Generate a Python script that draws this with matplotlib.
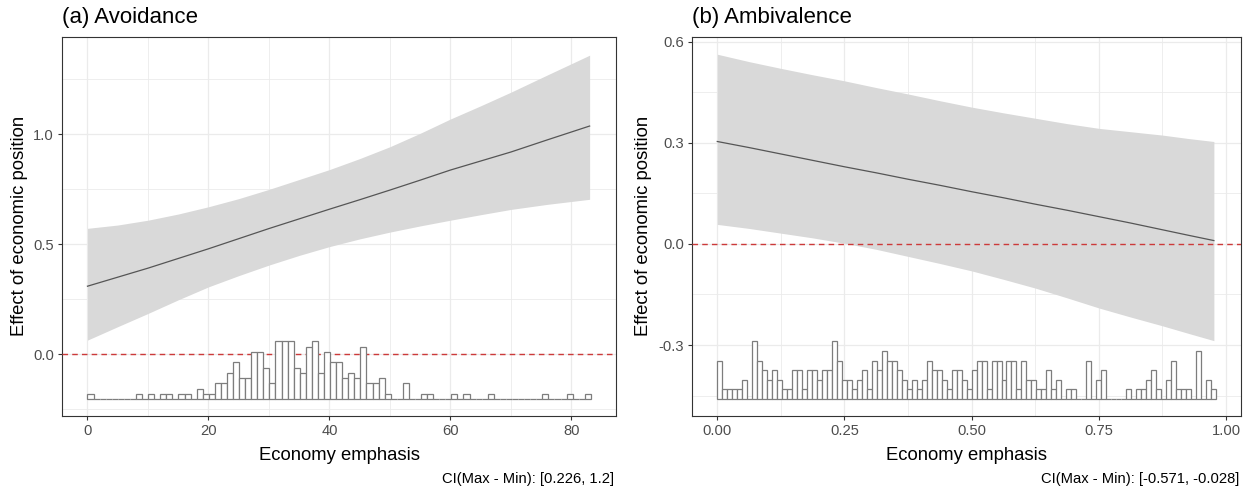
import numpy as np
import matplotlib.pyplot as plt

plt.rcParams['font.family'] = ['Liberation Sans', 'DejaVu Sans']

# (a) Avoidance: marginal effect, 95% band, histogram of the moderator
a_x = [0, 5, 10, 15, 20, 25, 30, 35, 40, 45, 50, 55, 60, 65, 70, 76, 83]
a_est = [0.310, 0.351, 0.392, 0.436, 0.480, 0.526, 0.572, 0.616, 0.660, 0.703,
         0.747, 0.792, 0.838, 0.879, 0.920, 0.975, 1.038]
a_lo = [0.065, 0.126, 0.186, 0.248, 0.307, 0.358, 0.406, 0.450, 0.490, 0.525,
        0.556, 0.584, 0.610, 0.635, 0.659, 0.682, 0.705]
a_hi = [0.573, 0.588, 0.610, 0.638, 0.671, 0.708, 0.750, 0.795, 0.840, 0.890,
        0.944, 1.005, 1.070, 1.130, 1.192, 1.270, 1.360]
a_hist_range = (0, 83.2)
a_counts = [1, 0, 0, 0, 0, 0, 0, 0, 1, 0,
            1, 0, 1, 1, 0, 1, 1, 0, 2, 1,
            1, 3, 3, 5, 7, 4, 4, 9, 9, 6,
            3, 11, 11, 11, 6, 5, 10, 11, 5, 9,
            7, 7, 4, 5, 4, 10, 3, 3, 4, 1,
            0, 0, 3, 0, 0, 1, 1, 0, 0, 0,
            1, 0, 1, 0, 0, 0, 1, 0, 0, 0,
            0, 0, 0, 0, 0, 1, 0, 0, 0, 1,
            0, 0, 1]
a_xticks = [0, 20, 40, 60, 80]
a_xlabels = ['0', '20', '40', '60', '80']
a_yticks = [0.0, 0.5, 1.0]
a_ylabels = ['0.0', '0.5', '1.0']

# (b) Ambivalence
b_x = [0, 0.0625, 0.125, 0.1875, 0.25, 0.3125, 0.375, 0.4375, 0.5, 0.5625,
       0.625, 0.6875, 0.75, 0.8125, 0.875, 0.925, 0.976]
b_est = [0.304, 0.286, 0.267, 0.248, 0.229, 0.211, 0.192, 0.174, 0.155, 0.137,
         0.118, 0.100, 0.081, 0.062, 0.042, 0.026, 0.010]
b_lo = [0.058, 0.046, 0.032, 0.018, 0.002, -0.016, -0.037, -0.058, -0.080, -0.105,
        -0.131, -0.160, -0.190, -0.217, -0.243, -0.265, -0.287]
b_hi = [0.563, 0.541, 0.521, 0.502, 0.484, 0.464, 0.445, 0.425, 0.406, 0.389,
        0.373, 0.357, 0.343, 0.333, 0.323, 0.313, 0.304]
b_hist_range = (0, 0.98)
b_counts = [4, 1, 1, 1, 1, 2, 0, 6, 4, 3,
            2, 3, 2, 1, 1, 3, 3, 1, 3, 3,
            2, 3, 3, 6, 4, 2, 2, 1, 2, 3,
            1, 4, 3, 5, 4, 4, 3, 2, 1, 2,
            1, 2, 4, 3, 3, 2, 1, 3, 3, 2,
            1, 3, 4, 4, 1, 4, 4, 2, 4, 4,
            1, 4, 2, 2, 1, 1, 3, 1, 2, 0,
            1, 1, 0, 0, 4, 0, 2, 3, 0, 0,
            0, 0, 1, 0, 1, 1, 2, 3, 1, 0,
            2, 4, 1, 1, 1, 0, 5, 0, 2, 1]
b_xticks = [0.0, 0.25, 0.5, 0.75, 1.0]
b_xlabels = ['0.00', '0.25', '0.50', '0.75', '1.00']
b_yticks = [-0.3, 0.0, 0.3, 0.6]
b_ylabels = ['-0.3', '0.0', '0.3', '0.6']


def draw_panel(ax, x, est, lo, hi, counts, hist_range, xlim, ylim,
               xticks, xlabels, yticks, ylabels, xminor, yminor):
    ax.set_xlim(*xlim)
    ax.set_ylim(*ylim)
    ax.fill_between(x, lo, hi, color='#d9d9d9', linewidth=0, zorder=1)
    ax.plot(x, est, color='#555555', linewidth=0.9, zorder=2)
    ax.axhline(0, color='#cc3a3a', linewidth=1.0, linestyle=(0, (4, 3)), zorder=3)

    # histogram sits at the bottom of the panel
    counts = np.array(counts)
    edges = np.linspace(hist_range[0], hist_range[1], len(counts) + 1)
    yr = ylim[1] - ylim[0]
    base = ylim[0] + 0.0443 * yr
    k = 0.152 * yr / counts.max()
    ax.bar(edges[:-1], counts * k, width=np.diff(edges), bottom=base, align='edge',
           facecolor='white', edgecolor='#7d7d7d', linewidth=0.9, zorder=4)

    ax.set_xticks(xticks)
    ax.set_xticklabels(xlabels)
    ax.set_yticks(yticks)
    ax.set_yticklabels(ylabels)
    ax.set_xticks(xminor, minor=True)
    ax.set_yticks(yminor, minor=True)
    ax.grid(True, which='major', color='#ebebeb', linewidth=0.9)
    ax.grid(True, which='minor', color='#ebebeb', linewidth=0.6)
    ax.set_axisbelow(True)
    ax.tick_params(which='major', length=3, width=0.8, color='#333333',
                   labelsize=10.6, labelcolor='#4d4d4d', pad=3)
    ax.tick_params(which='minor', length=0)
    for s in ax.spines.values():
        s.set_color('#333333')
        s.set_linewidth(0.8)


fig = plt.figure(figsize=(12.5, 4.92), dpi=100)
ax1 = fig.add_axes([62.3 / 1250, 1 - 415.8 / 492, (616 - 62.3) / 1250, (415.8 - 36.7) / 492])
ax2 = fig.add_axes([692.3 / 1250, 1 - 415.8 / 492, (1241 - 692.3) / 1250, (415.8 - 36.7) / 492])

draw_panel(ax1, a_x, a_est, a_lo, a_hi, a_counts, a_hist_range,
           (-4.16, 87.36), (-0.279, 1.444), a_xticks, a_xlabels, a_yticks, a_ylabels,
           [10, 30, 50, 70], [-0.25, 0.25, 0.75, 1.25])
draw_panel(ax2, b_x, b_est, b_lo, b_hi, b_counts, b_hist_range,
           (-0.0491, 1.0293), (-0.510, 0.615), b_xticks, b_xlabels, b_yticks, b_ylabels,
           [0.125, 0.375, 0.625, 0.875], [-0.45, -0.15, 0.15, 0.45])

for ax, title, caption, ylab_x in [(ax1, '(a) Avoidance', 'CI(Max - Min): [0.226, 1.2]', 20),
                                   (ax2, '(b) Ambivalence', 'CI(Max - Min): [-0.571, -0.028]', 644)]:
    pos = ax.get_position()
    fig.text(pos.x0, 1 - 23.3 / 492, title, fontsize=16, ha='left', va='baseline')
    fig.text((pos.x0 + pos.x1) / 2, 1 - 460 / 492, 'Economy emphasis', fontsize=13.3,
             ha='center', va='baseline')
    fig.text(ylab_x / 1250, (pos.y0 + pos.y1) / 2, 'Effect of economic position', fontsize=13.3,
             rotation=90, ha='center', va='center')
    fig.text(pos.x1 - 1.5 / 1250, 1 - 483.3 / 492, caption, fontsize=10.6,
             ha='right', va='baseline')

fig.savefig('out.png', dpi=100)
